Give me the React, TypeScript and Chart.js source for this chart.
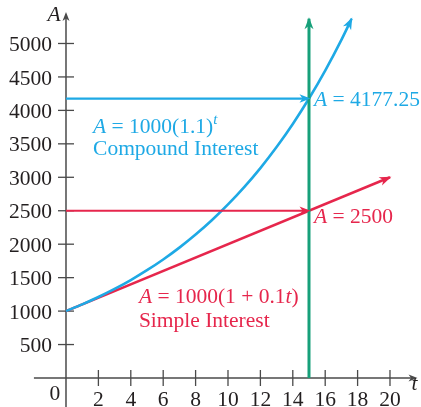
import { useEffect, useRef } from "react";
import { Chart, registerables } from "chart.js";

Chart.register(...registerables);

// ---- data ----
const compoundT = [0, 1, 2, 3, 4, 5, 6, 7, 8, 9, 10, 11, 12, 13, 14, 15, 16, 17, 17.63];
const compoundA = [1000, 1100, 1210, 1331, 1464, 1611, 1772, 1949, 2144, 2358, 2594, 2853, 3138, 3452, 3797, 4177, 4595, 5054, 5370];
const simpleT = [0, 20];
const simpleA = [1000, 3000];
const markT = 15;
const compoundAt15 = 4177.25;
const simpleAt15 = 2500;
const greenTopA = 5370;
const xTicks = [2, 4, 6, 8, 10, 12, 14, 16, 18, 20];
const yTicks = [500, 1000, 1500, 2000, 2500, 3000, 3500, 4000, 4500, 5000];

// scale ranges
const X_MIN = -4.074;
const X_MAX = 21.914;
const Y_MIN = -433.5;
const Y_MAX = 5650;
const X_AXIS_FROM = -1.98;
const X_AXIS_TO = 21.7;
const Y_AXIS_TO = 5470;

const CYAN = "#1EA9E5";
const RED = "#E6264C";
const GREEN = "#17A07A";
const AXIS = "#4A4A4A";
const TEXT = "#231F20";
const SERIF = '"Liberation Serif", "DejaVu Serif", serif';
const FS = 21.5;

type Part = { t: string; it?: boolean; sup?: boolean };

function font(it?: boolean, size = FS) {
  return `${it ? "italic " : ""}${size}px ${SERIF}`;
}

function drawRich(ctx: CanvasRenderingContext2D, parts: Part[], x: number, y: number, color: string) {
  ctx.save();
  ctx.fillStyle = color;
  ctx.textBaseline = "alphabetic";
  ctx.textAlign = "left";
  let cx = x;
  for (const p of parts) {
    const size = p.sup ? 15 : FS;
    ctx.font = font(p.it, size);
    ctx.fillText(p.t, cx, p.sup ? y - 9 : y);
    cx += ctx.measureText(p.t).width;
  }
  ctx.restore();
}

function arrowHead(
  ctx: CanvasRenderingContext2D,
  fx: number, fy: number, tx: number, ty: number,
  len: number, half: number, color: string, ext = 1.5
) {
  const ang = Math.atan2(ty - fy, tx - fx);
  ctx.save();
  ctx.translate(tx, ty);
  ctx.rotate(ang);
  ctx.beginPath();
  ctx.moveTo(ext, 0);
  ctx.lineTo(ext - len, -half);
  ctx.lineTo(ext - len * 0.72, 0);
  ctx.lineTo(ext - len, half);
  ctx.closePath();
  ctx.fillStyle = color;
  ctx.fill();
  ctx.restore();
}

const axesPlugin = {
  id: "axesPlugin",
  beforeDatasetsDraw(chart: any) {
    const { ctx } = chart;
    const xs = chart.scales.x;
    const ys = chart.scales.y;
    const x0 = xs.getPixelForValue(0);
    const y0 = ys.getPixelForValue(0);
    ctx.save();
    ctx.strokeStyle = AXIS;
    ctx.lineWidth = 1.5;
    // y axis
    const yTop = ys.getPixelForValue(Y_AXIS_TO);
    ctx.beginPath();
    ctx.moveTo(x0, chart.height);
    ctx.lineTo(x0, yTop + 4);
    ctx.stroke();
    arrowHead(ctx, x0, yTop + 10, x0, yTop, 9, 3.5, AXIS, 0);
    // x axis
    const xL = xs.getPixelForValue(X_AXIS_FROM);
    const xR = xs.getPixelForValue(X_AXIS_TO);
    ctx.beginPath();
    ctx.moveTo(xL, y0);
    ctx.lineTo(xR - 4, y0);
    ctx.stroke();
    arrowHead(ctx, xR - 10, y0, xR, y0, 9, 3.5, AXIS, 0);
    // ticks
    ctx.lineWidth = 1.3;
    ctx.fillStyle = TEXT;
    ctx.font = font(false);
    ctx.textAlign = "right";
    ctx.textBaseline = "middle";
    for (const v of yTicks) {
      const py = ys.getPixelForValue(v);
      ctx.beginPath();
      ctx.moveTo(x0 - 8, py);
      ctx.lineTo(x0 + 8, py);
      ctx.stroke();
      ctx.fillText(String(v), x0 - 14, py + 2);
    }
    ctx.textAlign = "center";
    ctx.textBaseline = "alphabetic";
    for (const v of xTicks) {
      const px = xs.getPixelForValue(v);
      ctx.beginPath();
      ctx.moveTo(px, y0 - 8);
      ctx.lineTo(px, y0 + 8);
      ctx.stroke();
      ctx.fillText(String(v), px, y0 + 28);
    }
    ctx.fillText("0", x0 - 11, y0 + 22);
    // axis titles
    ctx.font = font(true);
    ctx.fillText("A", x0 - 12, yTop + 9);
    ctx.fillText("t", xR - 3, y0 + 12);
    ctx.restore();
  },
  afterDatasetsDraw(chart: any) {
    const { ctx } = chart;
    const xs = chart.scales.x;
    const ys = chart.scales.y;
    const ends = [
      { i: 0, c: GREEN, len: 12, half: 4.5 },
      { i: 1, c: CYAN, len: 11, half: 4.2 },
      { i: 2, c: RED, len: 11, half: 4.2 },
      { i: 3, c: CYAN, len: 12, half: 4.5 },
      { i: 4, c: RED, len: 12, half: 4.5 },
    ];
    for (const e of ends) {
      const pts = chart.getDatasetMeta(e.i).data;
      const a = pts[pts.length - 2];
      const b = pts[pts.length - 1];
      arrowHead(ctx, a.x, a.y, b.x, b.y, e.len, e.half, e.c);
    }
    // labels
    const px15 = xs.getPixelForValue(markT);
    drawRich(ctx, [{ t: "A", it: true }, { t: " = 4177.25" }], px15 + 5, ys.getPixelForValue(compoundAt15) + 7.5, CYAN);
    drawRich(ctx, [{ t: "A", it: true }, { t: " = 2500" }], px15 + 5, ys.getPixelForValue(simpleAt15) + 12, RED);
    const cx = xs.getPixelForValue(1.67);
    const cy = ys.getPixelForValue(3662);
    drawRich(ctx, [{ t: "A", it: true }, { t: " = 1000(1.1)" }, { t: "t", it: true, sup: true }], cx, cy, CYAN);
    drawRich(ctx, [{ t: "Compound Interest" }], cx, cy + 22, CYAN);
    const sx = xs.getPixelForValue(4.5);
    const sy = ys.getPixelForValue(1121);
    drawRich(ctx, [{ t: "A", it: true }, { t: " = 1000(1 + 0.1" }, { t: "t", it: true }, { t: ")" }], sx, sy, RED);
    drawRich(ctx, [{ t: "Simple Interest" }], sx, sy + 24, RED);
  },
};

export default function App() {
  const ref = useRef<HTMLCanvasElement | null>(null);
  useEffect(() => {
    if (!ref.current) return;
    const line = (pts: { x: number; y: number }[], color: string, w: number, extra: any = {}) => ({
      data: pts,
      borderColor: color,
      backgroundColor: color,
      borderWidth: w,
      pointRadius: 0,
      fill: false,
      ...extra,
    });
    const chart = new Chart(ref.current, {
      type: "line",
      data: {
        datasets: [
          line([{ x: markT, y: 0 }, { x: markT, y: greenTopA }], GREEN, 3),
          line([{ x: 0, y: compoundAt15 }, { x: markT, y: compoundAt15 }], CYAN, 2.2),
          line([{ x: 0, y: simpleAt15 }, { x: markT, y: simpleAt15 }], RED, 2.2),
          line(compoundT.map((t, i) => ({ x: t, y: compoundA[i] })), CYAN, 2.6, { cubicInterpolationMode: "monotone" }),
          line(simpleT.map((t, i) => ({ x: t, y: simpleA[i] })), RED, 2.6),
        ],
      },
      options: {
        responsive: false,
        animation: false,
        layout: { padding: 0 },
        plugins: { legend: { display: false }, tooltip: { enabled: false } },
        scales: {
          x: { type: "linear", min: X_MIN, max: X_MAX, display: false },
          y: { type: "linear", min: Y_MIN, max: Y_MAX, display: false },
        },
      },
      plugins: [axesPlugin],
    });
    return () => chart.destroy();
  }, []);
  return (
    <div style={{ position: "fixed", left: 0, top: 0, width: 421, height: 407, background: "#fff" }}>
      <canvas ref={ref} width={421} height={407} style={{ width: 421, height: 407 }} />
    </div>
  );
}
